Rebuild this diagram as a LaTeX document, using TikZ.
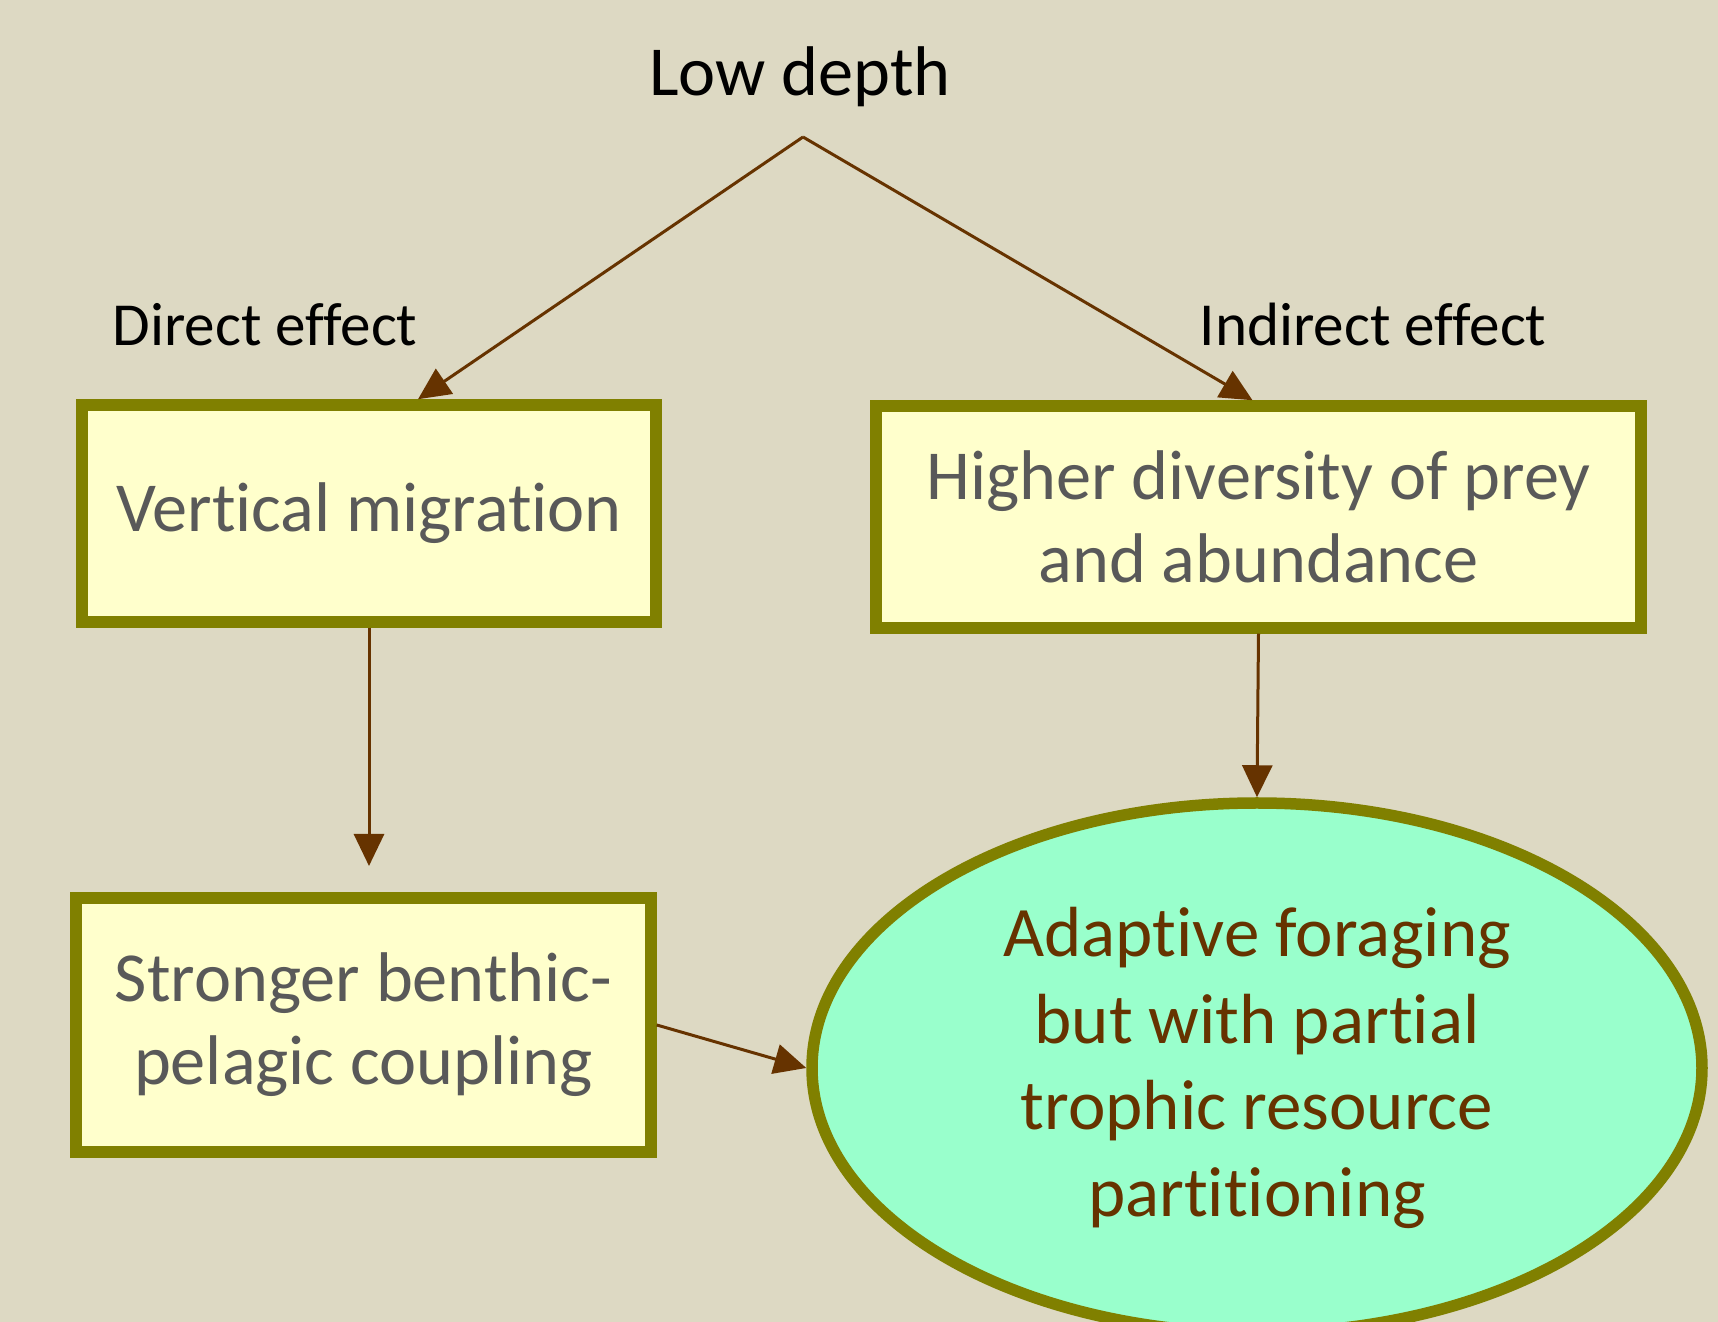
\documentclass[tikz,border=0pt]{standalone}
\usepackage{fontspec}
\setmainfont{Carlito}[Ligatures=NoCommon]
\usepackage{xcolor}
\usetikzlibrary{shapes,arrows.meta,positioning,calc}

\definecolor{bgtan}{HTML}{DDD9C3}
\definecolor{boxfill}{HTML}{FFFFCC}
\definecolor{boxline}{HTML}{808000}
\definecolor{arrowbrown}{HTML}{663300}
\definecolor{mintfill}{HTML}{99FFCC}
\definecolor{textgray}{HTML}{595959}

\tikzset{
  effectbox/.style={draw=boxline, line width=1.15mm, fill=boxfill, text=textgray,
    font=\fontsize{20}{23.6}\selectfont, align=center, inner sep=0pt},
  outcome/.style={ellipse, draw=boxline, line width=1.15mm, fill=mintfill, text=arrowbrown,
    font=\fontsize{20.2}{24.6}\selectfont, align=center, inner sep=0pt},
  effectlabel/.style={font=\fontsize{17.4}{20}\selectfont, inner sep=0pt},
  arr/.style={draw=arrowbrown, line width=0.3mm, -{Triangle[length=3.2mm,width=3mm]}}
}

\begin{document}
\begin{tikzpicture}[x=0.1mm,y=-0.1mm]
    % 背景
    \fill[bgtan] (0,0) rectangle (1718,1322);
    \useasboundingbox (0,0) rectangle (1718,1322);
    \clip (0,0) rectangle (1718,1322);
    % 标题与标签
    \node[font=\fontsize{20}{24}\selectfont, inner sep=0pt] (low) at (800,77) {Low depth};
    \coordinate (apex) at (803,137);
    \node[effectlabel] (direct) at (265,325) {Direct effect};
    \node[effectlabel] (indirect) at (1373,325) {Indirect effect};
    % 方框
    \node[effectbox, minimum width=57.4mm, minimum height=21.7mm] (vm) at (369,513.5) {Vertical migration};
    \node[effectbox, minimum width=76.5mm, minimum height=22.2mm] (hd) at (1258.5,517) {Higher diversity of prey\\and abundance};
    \node[effectbox, minimum width=57.5mm, minimum height=25.4mm] (sb) at (363.5,1025) {Stronger benthic-\\pelagic coupling};
    % 椭圆
    \node[outcome, minimum width=89mm, minimum height=53mm] (af) at (1257,1068) {Adaptive foraging\\but with partial\\trophic resource\\partitioning};
    % 箭头
    \coordinate (vmend) at (369,866);
    \draw[arr] (apex) -- ($(vm.north)+(49,0)$);
    \draw[arr] (apex) -- ($(hd.north)+(-6,0)$);
    \draw[arr] (vm.south) -- (vmend);
    \draw[arr] (hd.south) -- (af.north);
    \draw[arr] (sb.east) -- (af.west);
\end{tikzpicture}
\end{document}
